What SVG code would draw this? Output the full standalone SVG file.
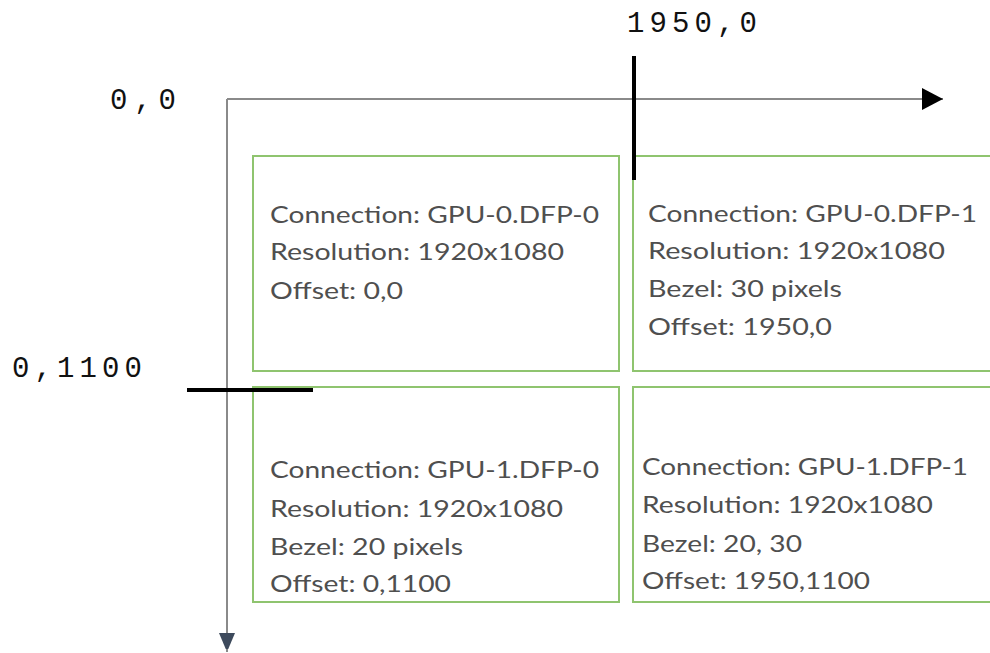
<svg xmlns="http://www.w3.org/2000/svg" width="990" height="653" viewBox="0 0 990 653">
<style>
.box{fill:#fff;stroke:#8fc46f;stroke-width:2}
.t{font-family:Lato,"Open Sans","Liberation Sans",sans-serif;font-size:24px;fill:#4f4f4f}
.m{font-family:"Liberation Mono","DejaVu Sans Mono",monospace;font-size:29px;fill:#111}
.axis{stroke:#8a8a8a;stroke-width:2;fill:none}
.tick{stroke:#000;stroke-width:4}
</style>
<defs>
<marker id="ah" markerWidth="22" markerHeight="22" refX="21" refY="11" orient="auto" markerUnits="userSpaceOnUse">
<path d="M0,0 L21,11 L0,22 Z" fill="#000"/>
</marker>
<marker id="av" markerWidth="16" markerHeight="20" refX="19" refY="8" orient="auto" markerUnits="userSpaceOnUse">
<path d="M0,0 L19,8 L0,16 Z" fill="#3d4a5c"/>
</marker>
</defs>
<rect width="990" height="653" fill="#fff"/>
<g id="labels">
<text class="m" x="110" y="109" textLength="66" lengthAdjust="spacing">0,0</text>
<text class="m" x="627" y="32" textLength="130" lengthAdjust="spacing">1950,0</text>
<text class="m" x="12" y="377" textLength="130" lengthAdjust="spacing">0,1100</text>
</g>
<g id="screen-0-0">
<rect class="box" x="253" y="156" width="366" height="215"/>
<text class="t" x="270" y="223" textLength="329" lengthAdjust="spacingAndGlyphs">Connection: GPU-0.DFP-0</text>
<text class="t" x="270" y="260" textLength="294" lengthAdjust="spacingAndGlyphs">Resolution: 1920x1080</text>
<text class="t" x="270" y="299" textLength="133" lengthAdjust="spacingAndGlyphs">Offset: 0,0</text>
</g>
<g id="screen-0-1">
<rect class="box" x="633" y="156" width="370" height="215"/>
<text class="t" x="648" y="222" textLength="329" lengthAdjust="spacingAndGlyphs">Connection: GPU-0.DFP-1</text>
<text class="t" x="648" y="259" textLength="297" lengthAdjust="spacingAndGlyphs">Resolution: 1920x1080</text>
<text class="t" x="648" y="297" textLength="194" lengthAdjust="spacingAndGlyphs">Bezel: 30 pixels</text>
<text class="t" x="648" y="335" textLength="184" lengthAdjust="spacingAndGlyphs">Offset: 1950,0</text>
</g>
<g id="screen-1-0">
<rect class="box" x="253" y="387" width="366" height="215"/>
<text class="t" x="270" y="478" textLength="329" lengthAdjust="spacingAndGlyphs">Connection: GPU-1.DFP-0</text>
<text class="t" x="270" y="517" textLength="293" lengthAdjust="spacingAndGlyphs">Resolution: 1920x1080</text>
<text class="t" x="270" y="555" textLength="193" lengthAdjust="spacingAndGlyphs">Bezel: 20 pixels</text>
<text class="t" x="270" y="592" textLength="181" lengthAdjust="spacingAndGlyphs">Offset: 0,1100</text>
</g>
<g id="screen-1-1">
<rect class="box" x="633" y="387" width="370" height="215"/>
<text class="t" x="642" y="475" textLength="326" lengthAdjust="spacingAndGlyphs">Connection: GPU-1.DFP-1</text>
<text class="t" x="642" y="513" textLength="291" lengthAdjust="spacingAndGlyphs">Resolution: 1920x1080</text>
<text class="t" x="642" y="552" textLength="160" lengthAdjust="spacingAndGlyphs">Bezel: 20, 30</text>
<text class="t" x="642" y="589" textLength="228" lengthAdjust="spacingAndGlyphs">Offset: 1950,1100</text>
</g>
<g id="connectors">
<path class="axis" d="M227,99 L943,99" marker-end="url(#ah)"/>
<path class="axis" d="M227,99 L227,652" stroke="#6a7080" marker-end="url(#av)"/>
<line class="tick" x1="634" y1="56" x2="634" y2="180"/>
<line class="tick" x1="187" y1="390" x2="313" y2="390"/>
</g>
</svg>
